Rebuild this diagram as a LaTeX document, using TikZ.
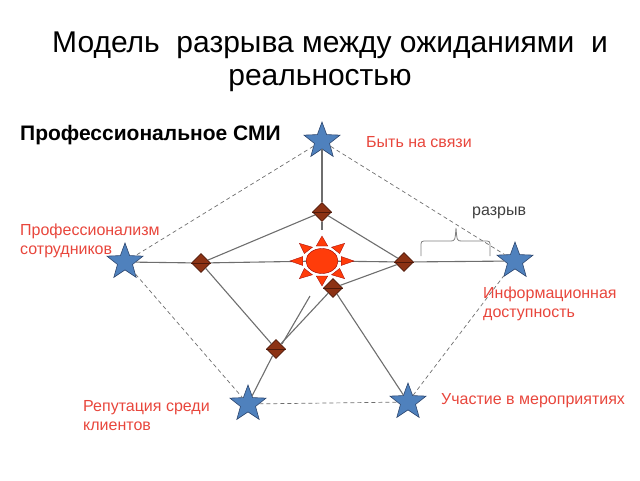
\documentclass[tikz,border=0pt]{standalone}
\usepackage{fontspec}
\setmainfont{Liberation Sans}
\usetikzlibrary{shapes.geometric}
\definecolor{lblred}{RGB}{232,70,60}
\definecolor{starblue}{RGB}{79,129,189}
\definecolor{stardark}{RGB}{45,70,110}
\definecolor{diafill}{RGB}{140,50,20}
\definecolor{diadark}{RGB}{80,25,10}
\definecolor{sunred}{RGB}{255,60,10}
\definecolor{linegray}{RGB}{110,110,110}
\tikzset{
  starnode/.style={star, star points=5, star point ratio=2.4, minimum size=38pt, inner sep=0pt, fill=starblue, draw=stardark, line width=0.6pt},
  dianode/.style={diamond, minimum size=19pt, inner sep=0pt, fill=diafill, draw=diadark, line width=0.6pt},
  solidline/.style={draw=linegray, line width=1.1pt},
  dashline/.style={draw=linegray, line width=0.7pt, dash pattern=on 4pt off 3pt},
  redlabel/.style={text=lblred, font=\fontsize{16}{19}\selectfont, align=left, inner sep=0pt},
  sunray/.style={fill=sunred, draw=red!60!black, line width=0.3pt}
}
\begin{document}
\begin{tikzpicture}[x=1pt,y=-1pt]
\useasboundingbox (0,0) rectangle (640,480);
% title
\node[anchor=base, font=\fontsize{30}{36}\selectfont, inner sep=0pt] (title1) at (330,52) {Модель\ \ разрыва между ожиданиями\ \ и};
\node[anchor=base, font=\fontsize{30}{36}\selectfont, inner sep=0pt] (title2) at (320,85) {реальностью};
\node[anchor=base west, font=\bfseries\fontsize{21}{25}\selectfont, inner sep=0pt] (subtitle) at (20,140) {Профессиональное СМИ};
% stars
\node[starnode] (tstar) at (322,141) {};
\node[starnode] (lstar) at (125,262) {};
\node[starnode] (rstar) at (515,261) {};
\node[starnode] (blstar) at (248,404) {};
\node[starnode] (brstar) at (408,402) {};
% diamonds
\node[dianode] (tdia) at (322,212) {};
\node[dianode] (ldia) at (201,263) {};
\node[dianode] (rdia) at (404,262) {};
\node[dianode] (cdia) at (333,288) {};
\node[dianode] (bdia) at (276,349) {};
% sun core
\node[ellipse, minimum width=32pt, minimum height=25pt, inner sep=0pt, fill=sunred, draw=red!60!black, line width=0.4pt] (sun) at (322,261) {};
\coordinate (stubA) at (322,230);
\coordinate (stubB) at (310,296);
\coordinate (stubC) at (282,344);
% connectors
\path[dashline] (tstar) -- (lstar);
\path[dashline] (tstar) -- (rstar);
\path[dashline] (lstar) -- (blstar);
\path[dashline] (blstar) -- (brstar);
\path[dashline] (brstar) -- (rstar);
\path[solidline] (tstar) -- (tdia);
\path[solidline] (tdia) -- (stubA);
\path[solidline] (tdia) -- (ldia);
\path[solidline] (tdia) -- (rdia);
\path[solidline] (lstar) -- (ldia);
\path[solidline] (ldia) -- (sun);
\path[solidline] (sun) -- (rdia);
\path[solidline] (rdia) -- (rstar);
\path[solidline] (rdia) -- (cdia);
\path[solidline] (ldia) -- (bdia);
\path[solidline] (cdia) -- (bdia);
\path[solidline] (bdia) -- (blstar);
\path[solidline] (cdia) -- (brstar);
\path[solidline] (stubB) -- (stubC);
% sun rays
\begin{scope}[shift={(sun.center)}, xscale=1.28]
\foreach \a in {0,45,...,315}{
  \path[sunray, rotate=\a] (15,-4.5) -- (25,0) -- (15,4.5) -- cycle;
}
\end{scope}
% diamond mid lines
\foreach \d in {tdia,ldia,rdia,cdia,bdia}{
  \draw[diadark, line width=0.5pt] (\d.west) -- (\d.east);
}
% brace
\draw[draw=gray, line width=0.8pt] (421,256) -- (421,247) .. controls (421,241) .. (427,241) -- (450,241) .. controls (455,241) .. (456,228) .. controls (457,241) .. (462,241) -- (484,241) .. controls (490,241) .. (490,247) -- (490,256);
\node[anchor=base west, text=black!75, font=\fontsize{16}{19}\selectfont, inner sep=0pt] (gap) at (472,215) {разрыв};
% labels
\node[redlabel, anchor=base west] (l1) at (366,147) {Быть на связи};
\node[redlabel, anchor=base west] (l2) at (20,254) {Профессионализм\\сотрудников};
\node[redlabel, anchor=base west] (l3) at (483,317) {Информационная\\доступность};
\node[redlabel, anchor=base west] (l4) at (83,430) {Репутация среди\\клиентов};
\node[redlabel, anchor=base west] (l5) at (441,404) {Участие в мероприятиях};
\end{tikzpicture}
\end{document}
